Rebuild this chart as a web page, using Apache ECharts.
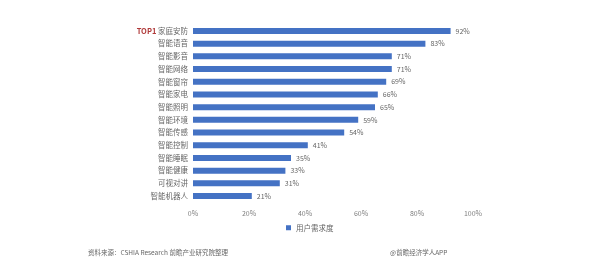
<!DOCTYPE html>
<html><head><meta charset="utf-8">
<script src="https://cdn.jsdelivr.net/npm/echarts@6/dist/echarts.min.js"></script>
<style>html,body{margin:0;padding:0;background:#fff}#c{width:600px;height:275px}</style>
</head><body><div id="c"></div>
<script>
const categories = ['TOP1 家庭安防','智能语音','智能影音','智能网络','智能窗帘','智能家电','智能照明','智能环境','智能传感','智能控制','智能睡眠','智能健康','可视对讲','智能机器人'];
const values = [92,83,71,71,69,66,65,59,54,41,35,33,31,21];
const xTicks = ['0%','20%','40%','60%','80%','100%'];
const seriesName = '用户需求度';
const font = '"Noto Sans CJK SC", sans-serif';
const chart = echarts.init(document.getElementById('c'));
chart.setOption({
  animation:false,
  textStyle:{fontFamily:font},
  grid:{left:193,right:127,top:24.6,bottom:72.6},
  xAxis:{type:'value',min:0,max:100,interval:20,
    axisLine:{show:false},axisTick:{show:false},splitLine:{show:false},
    axisLabel:{color:'#7f7f7f',fontSize:7,margin:7,fontFamily:font,formatter:v=>xTicks[v/20]}},
  yAxis:{type:'category',data:categories,inverse:true,
    axisLine:{show:false},axisTick:{show:false},
    axisLabel:{color:'#666',fontSize:7.5,margin:5,fontFamily:font,
      formatter:v=>v.startsWith('TOP1')?'{r|TOP1} '+v.slice(5):v,
      rich:{r:{color:'#b03a3a',fontWeight:'bold',fontSize:7.5,fontFamily:font}}}},
  legend:{data:[seriesName],left:281,top:219,itemWidth:5,itemHeight:5,itemGap:4,icon:'rect',
    textStyle:{color:'#666',fontSize:7.5,fontFamily:font}},
  series:[{name:seriesName,type:'bar',data:values,barWidth:6,
    itemStyle:{color:'#4472c4'},
    label:{show:true,position:'right',distance:5,color:'#666',fontSize:7,fontFamily:font,formatter:p=>p.value+'%'}}],
  graphic:[
    {type:'text',left:88,top:249,style:{text:'资料来源：CSHIA Research 前瞻产业研究院整理',fill:'#666',fontSize:6.5,fontFamily:font}},
    {type:'text',left:390,top:249,style:{text:'@前瞻经济学人APP',fill:'#666',fontSize:6.5,fontFamily:font}}
  ]
});
</script></body></html>
